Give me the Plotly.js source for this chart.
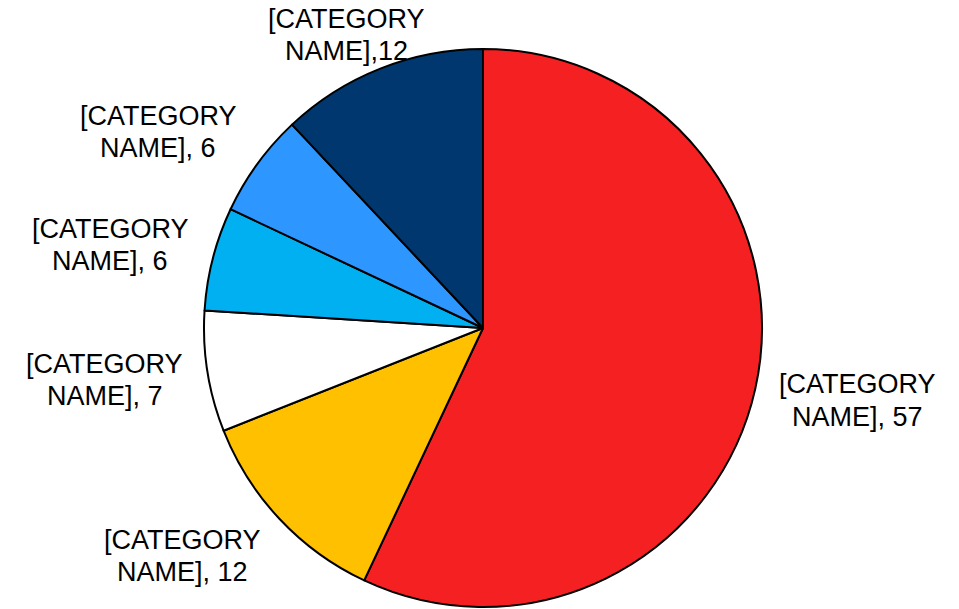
<!DOCTYPE html>
<html>
<head>
<meta charset="utf-8">
<script src="https://cdn.plot.ly/plotly-3.0.1.min.js"></script>
<style>
  html, body { margin: 0; padding: 0; background: #ffffff; }
  #chart { width: 959px; height: 609px; }
</style>
</head>
<body>
<div id="chart"></div>
<script>
// ---- data ----
const categoryNames = ['[CATEGORY NAME]', '[CATEGORY NAME]', '[CATEGORY NAME]', '[CATEGORY NAME]', '[CATEGORY NAME]', '[CATEGORY NAME]'];
const values = [57, 12, 7, 6, 6, 12];
const valueSeparators = [', ', ', ', ', ', ', ', ', ', ','];
const sliceColors = ['#F52021', '#FFC000', '#FFFFFF', '#00B0F0', '#2E96FF', '#00376F'];

// ---- layout constants (pixels) ----
const W = 959, H = 609;
const CX = 483, CY = 328, R = 279;
const FONT = { family: 'Liberation Sans, Arial, sans-serif', size: 27, color: '#000000' };
const LINE_GAP = 32.5;

const trace = {
  type: 'pie',
  values: values,
  sort: false,
  direction: 'clockwise',
  rotation: 0,
  marker: { colors: sliceColors, line: { color: '#000000', width: 2 } },
  textinfo: 'none',
  hoverinfo: 'skip',
  showlegend: false,
  domain: {
    x: [(CX - R) / W, (CX + R) / W],
    y: [1 - (CY + R) / H, 1 - (CY - R) / H]
  }
};

// label placement derived from each slice's mid angle
const total = values.reduce((a, b) => a + b, 0);
const annotations = [];
let cum = 0;
const clamp = (v, lo, hi) => Math.max(lo, Math.min(hi, v));
values.forEach((v, i) => {
  const mid = (cum + v / 2) / total * 2 * Math.PI;
  cum += v;
  const ux = Math.sin(mid), uy = -Math.cos(mid); // screen coords, y down
  const r0 = R * 1.075;
  let px = CX + r0 * ux + 82 * clamp(ux / 0.7, -1, 1);
  let py = CY + r0 * uy + 26.5 * clamp(uy / 0.8, -1, 1);
  if (py < 35) { px += (35 - py) * 1.4; py = 35; }
  py = Math.min(py, H - 35);
  const parts = categoryNames[i].split(' ');
  const line1 = parts[0];
  const line2 = parts.slice(1).join(' ') + valueSeparators[i] + v;
  [[line1, LINE_GAP / 2], [line2, -LINE_GAP / 2]].forEach(([txt, shift]) => {
    annotations.push({
      xref: 'paper', yref: 'paper',
      x: px / W, y: 1 - py / H,
      xanchor: 'center', yanchor: 'middle',
      yshift: shift,
      text: txt, showarrow: false,
      font: FONT
    });
  });
});

const layout = {
  width: W, height: H,
  margin: { l: 0, r: 0, t: 0, b: 0 },
  paper_bgcolor: '#ffffff',
  plot_bgcolor: '#ffffff',
  annotations: annotations
};

Plotly.newPlot('chart', [trace], layout, { displayModeBar: false, staticPlot: true });
</script>
</body>
</html>
